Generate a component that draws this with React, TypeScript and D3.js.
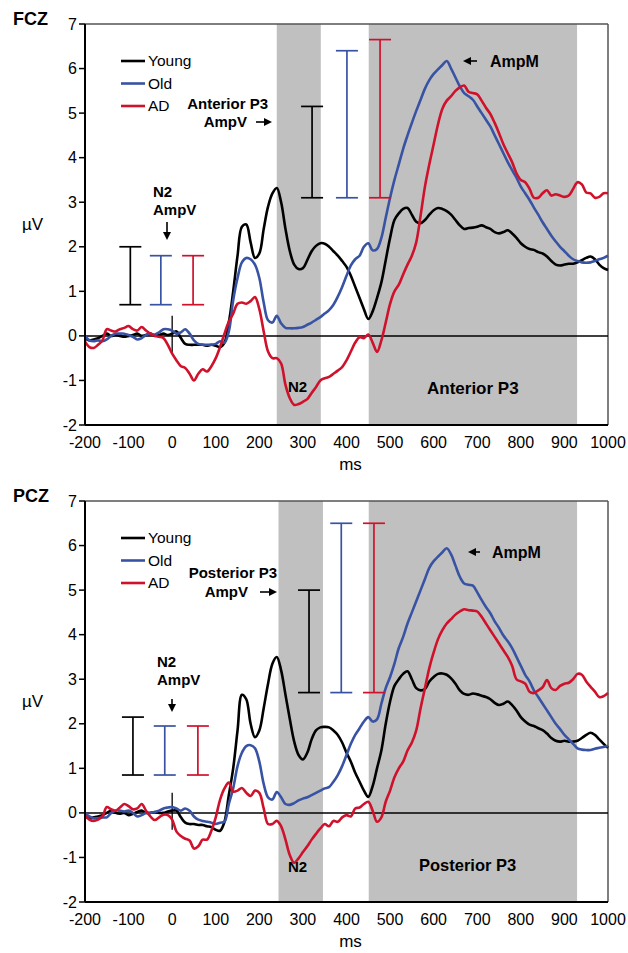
import React from 'react';
import * as d3 from 'd3';

// ---------- DATA ----------
const TIME_MS = [
  -200, -190, -180, -170, -160, -150, -140, -130, -120, -110,
  -100, -90, -80, -70, -60, -50, -40, -30, -20, -10,
  0, 10, 20, 30, 40, 50, 60, 70, 80, 90,
  100, 110, 120, 130, 140, 150, 160, 170, 180, 190,
  200, 210, 220, 230, 240, 250, 260, 270, 280, 290,
  300, 310, 320, 330, 340, 350, 360, 370, 380, 390,
  400, 410, 420, 430, 440, 450, 460, 470, 480, 490,
  500, 510, 520, 530, 540, 550, 560, 570, 580, 590,
  600, 610, 620, 630, 640, 650, 660, 670, 680, 690,
  700, 710, 720, 730, 740, 750, 760, 770, 780, 790,
  800, 810, 820, 830, 840, 850, 860, 870, 880, 890,
  900, 910, 920, 930, 940, 950, 960, 970, 980, 990,
  1000,
];

const FCZ_YOUNG = [
  -0.05, -0.1, -0.08, -0.05, 0.0, 0.05, 0.0, 0.02, 0.0, -0.02,
  0.0, 0.02, 0.05, 0.0, 0.02, 0.05, 0.0, 0.02, 0.05, 0.02,
  0.05, 0.1, -0.05, -0.18, -0.2, -0.2, -0.2, -0.2, -0.22, -0.2,
  -0.22, -0.25, -0.15, 0.3, 1.0, 1.8, 2.45, 2.5, 2.1, 1.75,
  1.85, 2.4, 2.9, 3.2, 3.32, 3.0, 2.4, 1.9, 1.6, 1.5,
  1.52, 1.7, 1.9, 2.02, 2.08, 2.07, 2.0, 1.9, 1.8, 1.68,
  1.55, 1.35, 1.1, 0.85, 0.6, 0.38, 0.55, 0.85, 1.2, 1.7,
  2.2, 2.6, 2.75, 2.85, 2.87, 2.72, 2.56, 2.53, 2.6, 2.72,
  2.82, 2.87, 2.85, 2.8, 2.72, 2.6, 2.48, 2.4, 2.42, 2.43,
  2.45, 2.48, 2.44, 2.4, 2.33, 2.3, 2.33, 2.37, 2.3, 2.2,
  2.08, 2.0, 1.95, 1.93, 1.88, 1.85, 1.78, 1.68, 1.6, 1.58,
  1.6, 1.62, 1.62, 1.65, 1.7, 1.75, 1.78, 1.72, 1.6, 1.52,
  1.48,
];

const FCZ_OLD = [
  0.0, -0.1, -0.12, -0.1, -0.12, -0.08, 0.0, 0.05, 0.05, 0.05,
  0.02, -0.02, -0.08, -0.05, 0.02, 0.05, 0.03, 0.08, 0.15, 0.15,
  0.12, 0.05, 0.08, 0.15, 0.05, -0.1, -0.18, -0.2, -0.2, -0.2,
  -0.18, -0.12, -0.15, 0.1, 0.8, 1.3, 1.65, 1.75, 1.72, 1.6,
  1.3, 0.75, 0.35, 0.3, 0.45, 0.28, 0.18, 0.17, 0.17, 0.18,
  0.2, 0.25, 0.3, 0.36, 0.42, 0.5, 0.58, 0.7, 0.88, 1.1,
  1.35, 1.58, 1.72, 1.8, 2.0, 2.08, 1.92, 1.95, 2.2, 2.65,
  3.1, 3.5, 3.85, 4.2, 4.5, 4.78, 5.05, 5.3, 5.55, 5.74,
  5.88, 5.98, 6.08, 6.17, 6.0, 5.8, 5.6, 5.45, 5.38, 5.3,
  5.15, 5.0, 4.85, 4.7, 4.5, 4.3, 4.1, 3.9, 3.72, 3.55,
  3.35, 3.2, 3.05, 2.88, 2.72, 2.55, 2.4, 2.25, 2.12, 2.0,
  1.9, 1.8, 1.72, 1.68, 1.65, 1.64, 1.65, 1.68, 1.72, 1.75,
  1.8,
];

const FCZ_AD = [
  -0.13, -0.25, -0.27, -0.2, -0.1, 0.15, 0.12, 0.1, 0.15, 0.18,
  0.22, 0.15, 0.12, 0.2, 0.12, 0.05, 0.0, -0.02, -0.05, -0.2,
  -0.4, -0.55, -0.68, -0.72, -0.85, -1.0, -0.85, -0.75, -0.8, -0.68,
  -0.5, -0.25, 0.05, 0.32, 0.5, 0.72, 0.75, 0.72, 0.78, 0.87,
  0.6, 0.1, -0.35, -0.5, -0.5, -0.62, -1.1, -1.4, -1.55, -1.53,
  -1.48, -1.42, -1.28, -1.15, -1.0, -0.95, -0.92, -0.85, -0.78, -0.7,
  -0.55, -0.35, -0.15, -0.03, -0.05, 0.03, -0.15, -0.36, -0.1, 0.3,
  0.72, 1.0, 1.15, 1.38, 1.6, 1.8, 2.1, 2.7, 3.35, 3.85,
  4.3, 4.75, 5.1, 5.28, 5.38, 5.5, 5.58, 5.62, 5.48, 5.45,
  5.42, 5.28, 5.12, 4.98, 4.78, 4.55, 4.3, 4.1, 3.9, 3.65,
  3.5, 3.45, 3.3, 3.1, 3.1, 3.2, 3.27, 3.15, 3.18, 3.15,
  3.12, 3.15, 3.3, 3.45, 3.4, 3.22, 3.2, 3.1, 3.12, 3.2,
  3.2,
];

const PCZ_YOUNG = [
  -0.08, -0.12, -0.1, -0.08, -0.05, 0.0, 0.05, 0.0, -0.02, 0.0,
  -0.05, -0.02, 0.02, 0.05, 0.0, 0.0, 0.02, 0.0, 0.0, 0.03,
  0.05, 0.05, -0.1, -0.22, -0.25, -0.25, -0.27, -0.27, -0.3, -0.32,
  -0.38, -0.4, -0.2, 0.4, 1.0, 1.85, 2.65, 2.55, 2.0, 1.7,
  1.85, 2.35, 2.9, 3.35, 3.5, 3.2, 2.65, 2.1, 1.6, 1.3,
  1.2, 1.35, 1.65, 1.85, 1.92, 1.93, 1.92, 1.85, 1.75, 1.58,
  1.35, 1.15, 0.9, 0.7, 0.5, 0.36, 0.6, 1.0, 1.4, 2.0,
  2.5, 2.85, 3.0, 3.12, 3.18, 3.0, 2.8, 2.75, 2.78, 2.95,
  3.05, 3.12, 3.13, 3.1, 3.02, 2.9, 2.75, 2.67, 2.65, 2.68,
  2.66, 2.63, 2.6, 2.55, 2.47, 2.42, 2.45, 2.5, 2.42, 2.3,
  2.15, 2.05, 1.98, 1.95, 1.9, 1.86, 1.78, 1.68, 1.62, 1.6,
  1.62, 1.6, 1.6, 1.62, 1.68, 1.75, 1.8, 1.75, 1.65, 1.55,
  1.46,
];

const PCZ_OLD = [
  0.0, -0.08, -0.12, -0.12, -0.1, -0.1, 0.0, 0.05, 0.05, 0.03,
  0.05, 0.0, -0.08, -0.05, 0.0, 0.0, 0.02, 0.05, 0.1, 0.12,
  0.13, 0.1, 0.05, 0.1, 0.05, -0.08, -0.15, -0.18, -0.2, -0.22,
  -0.25, -0.22, -0.2, 0.2, 0.55, 1.05, 1.35, 1.5, 1.52, 1.45,
  1.15, 0.65, 0.35, 0.3, 0.47, 0.35, 0.2, 0.18, 0.22, 0.28,
  0.32, 0.35, 0.4, 0.45, 0.5, 0.55, 0.58, 0.7, 0.85, 1.05,
  1.3, 1.55, 1.75, 1.9, 2.05, 2.15, 2.05, 2.1, 2.45, 2.8,
  3.05, 3.35, 3.7, 3.95, 4.25, 4.5, 4.75, 5.0, 5.25, 5.5,
  5.65, 5.75, 5.85, 5.94, 5.8, 5.55, 5.3, 5.15, 5.12, 5.1,
  4.95, 4.78, 4.62, 4.48, 4.3, 4.15, 3.98, 3.85, 3.7, 3.5,
  3.3, 3.1, 2.95, 2.75, 2.6, 2.45, 2.3, 2.15, 2.0, 1.88,
  1.75, 1.65, 1.55, 1.45, 1.42, 1.41, 1.41, 1.44, 1.46, 1.48,
  1.5,
];

const PCZ_AD = [
  -0.05, -0.15, -0.18, -0.15, -0.08, 0.13, 0.08, 0.05, 0.12, 0.2,
  0.15, 0.08, 0.1, 0.2, 0.05, -0.08, -0.16, -0.1, -0.04, -0.05,
  -0.15, -0.42, -0.52, -0.58, -0.62, -0.8, -0.75, -0.6, -0.6, -0.4,
  -0.1, 0.3, 0.55, 0.68, 0.48, 0.5, 0.56, 0.45, 0.38, 0.5,
  0.45, 0.1, -0.25, -0.25, -0.18, -0.3, -0.6, -0.95, -1.12, -1.02,
  -0.88, -0.75, -0.6, -0.47, -0.35, -0.25, -0.3, -0.18, -0.2, -0.1,
  -0.05, -0.08, 0.1, 0.12, 0.2, 0.25, 0.05, -0.2, -0.1, 0.25,
  0.5, 0.8, 1.0, 1.15, 1.4, 1.58, 1.85, 2.35, 2.8, 3.25,
  3.6, 3.9, 4.1, 4.25, 4.35, 4.45, 4.52, 4.57, 4.55, 4.54,
  4.52, 4.4, 4.25, 4.1, 3.95, 3.8, 3.65, 3.5, 3.3, 3.0,
  2.95, 2.9, 2.72, 2.69, 2.75, 2.82, 2.98, 2.8, 2.76, 2.85,
  2.9, 2.92, 3.0, 3.12, 3.1, 2.95, 2.83, 2.72, 2.6, 2.62,
  2.69,
];

const GROUPS = ['Young', 'Old', 'AD'];
const X_TICKS = [-200, -100, 0, 100, 200, 300, 400, 500, 600, 700, 800, 900, 1000];
const Y_TICKS = [-2, -1, 0, 1, 2, 3, 4, 5, 6, 7];

// error bars: x position (ms), top / bottom (µV), one per group
const FCZ_N2_X = [-96, -26, 48];
const FCZ_N2_TOP = [2.0, 1.8, 1.8];
const FCZ_N2_BOT = [0.7, 0.7, 0.7];
const FCZ_P3_X = [321, 401, 477];
const FCZ_P3_TOP = [5.15, 6.4, 6.65];
const FCZ_P3_BOT = [3.1, 3.1, 3.1];

const PCZ_N2_X = [-90, -17, 59];
const PCZ_N2_TOP = [2.15, 1.95, 1.95];
const PCZ_N2_BOT = [0.85, 0.85, 0.85];
const PCZ_P3_X = [314, 388, 463];
const PCZ_P3_TOP = [5.0, 6.5, 6.5];
const PCZ_P3_BOT = [2.7, 2.7, 2.7];

const FCZ_WINDOWS = [[240, 341], [451, 929]];
const PCZ_WINDOWS = [[244, 346], [451, 929]];

// ---------- STYLE ----------
const COLORS = ['#000000', '#3953a4', '#d0112b'];
const FONT = "'Liberation Sans', Arial, Helvetica, sans-serif";
const SHADE = '#c0c0c0';
const W = 628;
const H = 953;
const LEFT = 85;
const RIGHT = 608;
const PH = 401;

type Ann = {
  p3a: string;
  p3aEnd: number; p3aY: number; ampvEnd: number; ampvY: number; arrowX1: number; arrowX2: number;
  n2X: number; n2Y: number; n2AmpY: number; n2ArrowX: number; n2ArrowY1: number; n2ArrowY2: number;
  ampmX: number; ampmY: number; ampmArrow1: number; ampmArrow2: number;
  n2LabelX: number; n2LabelY: number;
  p3LabelX: number; p3LabelY: number; p3LabelSize: number;
};

function ArrowRight({ x1, x2, y }: { x1: number; x2: number; y: number }) {
  return (
    <g>
      <line x1={x1} x2={x2 - 6} y1={y} y2={y} stroke="#000" strokeWidth={1.6} />
      <polygon points={`${x2},${y} ${x2 - 8},${y - 4} ${x2 - 8},${y + 4}`} fill="#000" />
    </g>
  );
}
function ArrowLeft({ x1, x2, y }: { x1: number; x2: number; y: number }) {
  return (
    <g>
      <line x1={x1} x2={x2 + 6} y1={y} y2={y} stroke="#000" strokeWidth={1.6} />
      <polygon points={`${x2},${y} ${x2 + 8},${y - 4} ${x2 + 8},${y + 4}`} fill="#000" />
    </g>
  );
}
function ArrowDown({ x, y1, y2 }: { x: number; y1: number; y2: number }) {
  return (
    <g>
      <line x1={x} x2={x} y1={y1} y2={y2 - 6} stroke="#000" strokeWidth={1.6} />
      <polygon points={`${x},${y2} ${x - 4},${y2 - 8} ${x + 4},${y2 - 8}`} fill="#000" />
    </g>
  );
}

function Panel(props: {
  top: number;
  title: string;
  series: number[][];
  windows: number[][];
  n2: { x: number[]; t: number[]; b: number[] };
  p3: { x: number[]; t: number[]; b: number[] };
  ann: Ann;
}) {
  const { top, title, series, windows, n2, p3, ann } = props;
  const x = d3.scaleLinear().domain([-200, 1000]).range([LEFT, RIGHT]);
  const y = d3.scaleLinear().domain([-2, 7]).range([top + PH, top]);
  const off = top - 24;
  const line = d3
    .line<number>()
    .x((_, i) => x(TIME_MS[i]))
    .y((d) => y(d))
    .curve(d3.curveCatmullRom.alpha(0.5));
  const bold = { fontFamily: FONT, fontWeight: 700, fontSize: 15, fill: '#000' } as const;
  const cap = 11;

  const bars = (b: { x: number[]; t: number[]; b: number[] }, key: string) =>
    b.x.map((xv, i) => (
      <g key={key + i} stroke={COLORS[i]} strokeWidth={1.7}>
        <line x1={x(xv)} x2={x(xv)} y1={y(b.t[i])} y2={y(b.b[i])} />
        <line x1={x(xv) - cap} x2={x(xv) + cap} y1={y(b.t[i])} y2={y(b.t[i])} />
        <line x1={x(xv) - cap} x2={x(xv) + cap} y1={y(b.b[i])} y2={y(b.b[i])} />
      </g>
    ));

  return (
    <g>
      {windows.map((w, i) => (
        <rect key={i} x={x(w[0])} y={top} width={x(w[1]) - x(w[0])} height={PH} fill={SHADE} />
      ))}
      <line x1={LEFT} x2={RIGHT} y1={top} y2={top} stroke="#555" strokeWidth={1.5} />
      <line x1={RIGHT} x2={RIGHT} y1={top} y2={top + PH} stroke="#555" strokeWidth={1.5} />
      <line x1={LEFT} x2={RIGHT} y1={y(0)} y2={y(0)} stroke="#000" strokeWidth={1.5} />
      <line x1={x(0)} x2={x(0)} y1={y(0.45)} y2={y(-0.38)} stroke="#000" strokeWidth={1.3} />
      {series.map((s, i) => (
        <path key={i} d={line(s) || ''} fill="none" stroke={COLORS[i]} strokeWidth={2.6} strokeLinejoin="round" />
      ))}
      <line x1={LEFT} x2={LEFT} y1={top} y2={top + PH} stroke="#000" strokeWidth={2} />
      <line x1={LEFT} x2={RIGHT} y1={top + PH} y2={top + PH} stroke="#000" strokeWidth={2} />
      {Y_TICKS.map((t) => (
        <g key={t}>
          <line x1={LEFT - 6} x2={LEFT} y1={y(t)} y2={y(t)} stroke="#000" strokeWidth={1.5} />
          <text x={LEFT - 8} y={y(t)} dy="0.35em" textAnchor="end" fontFamily={FONT} fontSize={16}>
            {t}
          </text>
        </g>
      ))}
      {X_TICKS.map((t) => (
        <text key={t} x={x(t)} y={top + PH + 23} textAnchor="middle" fontFamily={FONT} fontSize={16}>
          {t}
        </text>
      ))}
      <text x={(LEFT + RIGHT) / 2 + 4} y={top + PH + 45} textAnchor="middle" fontFamily={FONT} fontSize={17}>
        ms
      </text>
      <text x={22} y={230 + off} fontFamily={FONT} fontSize={17}>
        µV
      </text>
      <text x={13} y={25 + off} fontFamily={FONT} fontSize={18} fontWeight={700}>
        {title}
      </text>
      {GROUPS.map((g, i) => (
        <g key={g}>
          <line x1={121} x2={145} y1={61 + off + i * 22.5} y2={61 + off + i * 22.5} stroke={COLORS[i]} strokeWidth={2.6} />
          <text x={148} y={61 + off + i * 22.5} dy="0.35em" fontFamily={FONT} fontSize={15.5}>
            {g}
          </text>
        </g>
      ))}
      {bars(n2, 'n2')}
      {bars(p3, 'p3')}
      <text x={ann.p3aEnd} y={ann.p3aY + off} dy="0.35em" textAnchor="end" {...bold}>
        {ann.p3a}
      </text>
      <text x={ann.ampvEnd} y={ann.ampvY + off} dy="0.35em" textAnchor="end" {...bold}>
        AmpV
      </text>
      <ArrowRight x1={ann.arrowX1} x2={ann.arrowX2} y={ann.ampvY + off} />
      <text x={ann.n2X} y={ann.n2Y + off} dy="0.35em" {...bold}>
        N2
      </text>
      <text x={ann.n2X} y={ann.n2AmpY + off} dy="0.35em" {...bold}>
        AmpV
      </text>
      <ArrowDown x={ann.n2ArrowX} y1={ann.n2ArrowY1 + off} y2={ann.n2ArrowY2 + off} />
      <text x={ann.ampmX} y={ann.ampmY + off} dy="0.35em" {...bold} fontSize={16}>
        AmpM
      </text>
      <ArrowLeft x1={ann.ampmArrow1} x2={ann.ampmArrow2} y={ann.ampmY + off} />
      <text x={ann.n2LabelX} y={ann.n2LabelY + off} dy="0.35em" {...bold}>
        N2
      </text>
      <text x={ann.p3LabelX} y={ann.p3LabelY + off} dy="0.35em" {...bold} fontSize={ann.p3LabelSize}>
        {ann.p3a}
      </text>
    </g>
  );
}

const FCZ_ANN: Ann = {
  p3a: 'Anterior P3',
  p3aEnd: 268, p3aY: 104, ampvEnd: 247, ampvY: 122, arrowX1: 256, arrowX2: 272,
  n2X: 153, n2Y: 192, n2AmpY: 210, n2ArrowX: 167, n2ArrowY1: 222, n2ArrowY2: 240,
  ampmX: 490, ampmY: 61, ampmArrow1: 477, ampmArrow2: 463,
  n2LabelX: 288, n2LabelY: 387,
  p3LabelX: 427, p3LabelY: 388, p3LabelSize: 17,
};

const PCZ_ANN: Ann = {
  p3a: 'Posterior P3',
  p3aEnd: 277, p3aY: 96, ampvEnd: 248, ampvY: 115, arrowX1: 260, arrowX2: 277,
  n2X: 157, n2Y: 185, n2AmpY: 203, n2ArrowX: 172, n2ArrowY1: 222, n2ArrowY2: 235,
  ampmX: 492, ampmY: 75, ampmArrow1: 480, ampmArrow2: 468,
  n2LabelX: 288, n2LabelY: 390,
  p3LabelX: 419, p3LabelY: 388, p3LabelSize: 16.5,
};

export default function App() {
  return (
    <svg
      width={W}
      height={H}
      viewBox={`0 0 ${W} ${H}`}
      style={{ position: 'absolute', left: 0, top: 0, background: '#fff' }}
    >
      <rect x={0} y={0} width={W} height={H} fill="#fff" />
      <Panel
        top={24}
        title="FCZ"
        series={[FCZ_YOUNG, FCZ_OLD, FCZ_AD]}
        windows={FCZ_WINDOWS}
        n2={{ x: FCZ_N2_X, t: FCZ_N2_TOP, b: FCZ_N2_BOT }}
        p3={{ x: FCZ_P3_X, t: FCZ_P3_TOP, b: FCZ_P3_BOT }}
        ann={FCZ_ANN}
      />
      <Panel
        top={501}
        title="PCZ"
        series={[PCZ_YOUNG, PCZ_OLD, PCZ_AD]}
        windows={PCZ_WINDOWS}
        n2={{ x: PCZ_N2_X, t: PCZ_N2_TOP, b: PCZ_N2_BOT }}
        p3={{ x: PCZ_P3_X, t: PCZ_P3_TOP, b: PCZ_P3_BOT }}
        ann={PCZ_ANN}
      />
    </svg>
  );
}
